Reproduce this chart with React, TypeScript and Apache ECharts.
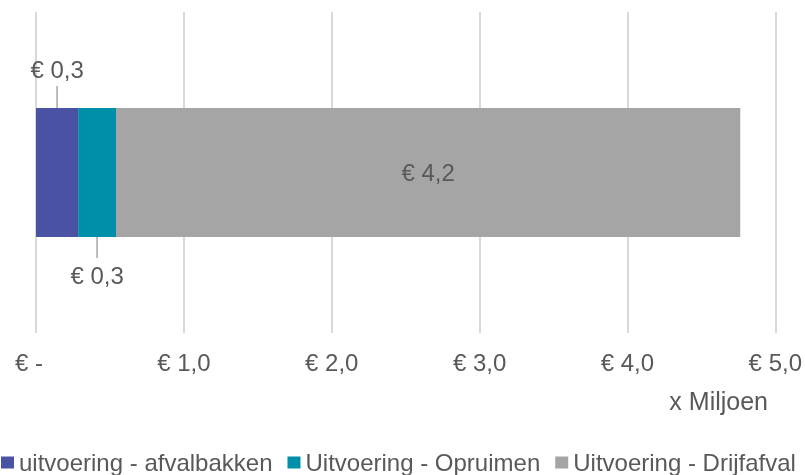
import React, { useEffect, useRef } from "react";
import * as echarts from "echarts";

const categories = ["Totaal"];
const seriesNames = [
  "uitvoering - afvalbakken",
  "Uitvoering - Opruimen",
  "Uitvoering - Drijfafval",
];
const afvalbakken = [0.285];
const opruimen = [0.256];
const drijfafval = [4.222];
const xTicks = [0, 1, 2, 3, 4, 5];
const colors = ["#4A52A3", "#008FA8", "#A5A5A5"];

const FONT = "'Liberation Sans', Arial, sans-serif";
const TXT = "#595959";

const fmt = (v: number) => "€ " + v.toFixed(1).replace(".", ",");

export default function App() {
  const ref = useRef<HTMLDivElement>(null);
  useEffect(() => {
    if (!ref.current) return;
    const chart = echarts.init(ref.current, undefined, { renderer: "svg" });
    const BAR_W = 129;
    const labelStyle = {
      show: true,
      fontFamily: FONT,
      fontSize: 24,
      lineHeight: 24,
      color: TXT,
      formatter: (p: any) => fmt(p.value),
    };
    chart.setOption({
      animation: false,
      textStyle: { fontFamily: FONT },
      grid: { left: 36, right: 28, top: 12, bottom: 142, containLabel: false },
      xAxis: {
        type: "value",
        min: xTicks[0],
        max: xTicks[xTicks.length - 1],
        interval: 1,
        axisLine: { show: false },
        axisTick: { show: false },
        splitLine: { show: true, lineStyle: { color: "#D9D9D9", width: 2 } },
        axisLabel: {
          margin: 17,
          fontFamily: FONT,
          fontSize: 24,
          color: TXT,
          formatter: (v: number) => (v === 0 ? "{z|€ -}" : fmt(v)),
          rich: {
            z: { fontFamily: FONT, fontSize: 24, color: TXT, padding: [0, 14, 0, 0] },
          },
        },
      },
      yAxis: {
        type: "category",
        data: categories,
        axisLine: { show: false },
        axisTick: { show: false },
        axisLabel: { show: false },
        splitLine: { show: false },
      },
      legend: {
        left: 1,
        top: 445,
        padding: 0,
        itemGap: 15,
        itemWidth: 13,
        itemHeight: 12,
        icon: "rect",
        textStyle: {
          fontFamily: FONT,
          fontSize: 24,
          lineHeight: 24,
          color: TXT,
          padding: [11, 0, 0, 0],
        },
        data: seriesNames,
      },
      series: [
        {
          name: seriesNames[0],
          type: "bar",
          stack: "t",
          barWidth: BAR_W,
          data: afvalbakken,
          itemStyle: { color: colors[0] },
          label: { ...labelStyle, position: "top", distance: 27 },
        },
        {
          name: seriesNames[1],
          type: "bar",
          stack: "t",
          barWidth: BAR_W,
          data: opruimen,
          itemStyle: { color: colors[1] },
          label: { ...labelStyle, position: "bottom", distance: 26 },
        },
        {
          name: seriesNames[2],
          type: "bar",
          stack: "t",
          barWidth: BAR_W,
          data: drijfafval,
          itemStyle: { color: colors[2] },
          label: { ...labelStyle, position: "inside" },
        },
      ],
    });

    // leader lines from library scales
    const cy = chart.convertToPixel({ yAxisIndex: 0 }, categories[0]) as number;
    const x1 = chart.convertToPixel({ xAxisIndex: 0 }, afvalbakken[0] / 2) as number;
    const x2 = chart.convertToPixel(
      { xAxisIndex: 0 },
      afvalbakken[0] + opruimen[0] / 2
    ) as number;
    const top = cy - BAR_W / 2;
    const bot = cy + BAR_W / 2;
    chart.setOption({
      graphic: [
        {
          type: "line",
          shape: { x1: x1, y1: top - 22, x2: x1, y2: top },
          style: { stroke: "#A6A6A6", lineWidth: 1.5 },
        },
        {
          type: "line",
          shape: { x1: x2, y1: bot, x2: x2, y2: bot + 21 },
          style: { stroke: "#A6A6A6", lineWidth: 1.5 },
        },
        {
          type: "text",
          right: 37,
          top: 388,
          style: { text: "x Miljoen", fontFamily: FONT, fontSize: 25, fill: TXT },
        },
      ],
    });
    return () => chart.dispose();
  }, []);
  return (
    <div
      ref={ref}
      style={{ position: "fixed", left: 0, top: 0, width: 805, height: 475 }}
    />
  );
}
